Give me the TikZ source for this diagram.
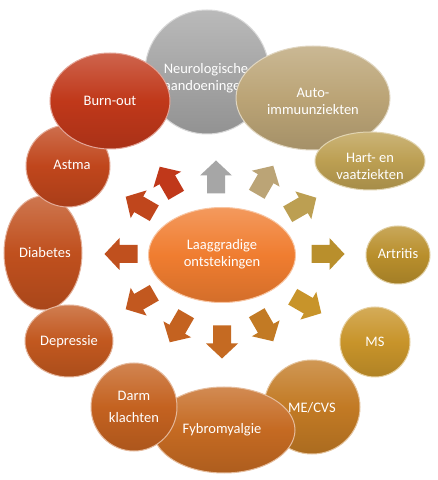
\documentclass[tikz,border=0pt]{standalone}
\usepackage{fontspec}
\setmainfont{Carlito}
\usetikzlibrary{shapes.geometric}
\definecolor{cNeuro}{HTML}{A6A6A6}
\definecolor{cAuto}{HTML}{BBA476}
\definecolor{cHart}{HTML}{BC9F52}
\definecolor{cArtr}{HTML}{B98F2C}
\definecolor{cMS}{HTML}{C8942A}
\definecolor{cMECVS}{HTML}{C27A24}
\definecolor{cFybro}{HTML}{C56A22}
\definecolor{cDarm}{HTML}{C46220}
\definecolor{cDepr}{HTML}{C2581F}
\definecolor{cDiab}{HTML}{C0501E}
\definecolor{cAstma}{HTML}{C0461C}
\definecolor{cBurn}{HTML}{C0381A}
\definecolor{cCenter}{HTML}{F07D30}
\tikzset{
  bubble/.style={ellipse, inner sep=0pt, draw=#1!45!white, line width=1pt,
    top color=#1!78!white, bottom color=#1!88!black, middle color=#1},
  txt/.style={text=white, align=center, inner sep=0pt,
    font=\fontsize{14.5}{17}\selectfont},
  arrowfill/.style={fill=#1},
}
\begin{document}
\begin{tikzpicture}[x=1pt,y=1pt]
\useasboundingbox[fill=white] (0,0) rectangle (438,480);
% outer ring (back to front)
\node[bubble=cNeuro, minimum width=124, minimum height=124] (neuro) at (207,408) {};
\node[txt] (tneuro) at (206,402) {Neurologische\\aandoeningen};
\node[bubble=cAuto, minimum width=154, minimum height=104] (auto) at (313,382) {};
\node[txt] (tauto) at (313,379) {Auto-\\immuunziekten};
\node[bubble=cHart, minimum width=110, minimum height=58] (hart) at (370,319) {};
\node[txt] (thart) at (370,314) {Hart- en\\vaatziekten};
\node[bubble=cArtr, minimum width=64, minimum height=58] (artr) at (398,225) {};
\node[txt] (tartr) at (398,226) {Artritis};
\node[bubble=cMS, minimum width=70, minimum height=70] (ms) at (375,138) {};
\node[txt] (tms) at (375,138) {MS};
\node[bubble=cMECVS, minimum width=96, minimum height=94] (mecvs) at (312,73) {};
\node[txt] (tmecvs) at (312,72) {ME/CVS};
\node[bubble=cFybro, minimum width=142, minimum height=86] (fybro) at (224,50) {};
\node[txt] (tfybro) at (222,50) {Fybromyalgie};
\node[bubble=cDarm, minimum width=86, minimum height=88] (darm) at (134,73) {};
\node[txt, font=\fontsize{14.5}{22}\selectfont] (tdarm) at (134,73) {Darm\\klachten};
\node[bubble=cDiab, minimum width=78, minimum height=114] (diab) at (43,227) {};
\node[txt] (tdiab) at (45,227) {Diabetes};
\node[bubble=cDepr, minimum width=88, minimum height=72] (depr) at (69,139) {};
\node[txt] (tdepr) at (69,138) {Depressie};
\node[bubble=cAstma, minimum width=84, minimum height=82] (astma) at (68,314) {};
\node[txt] (tastma) at (72,315) {Astma};
\node[bubble=cBurn, minimum width=120, minimum height=96] (burn) at (110,379) {};
\node[txt] (tburn) at (110,379) {Burn-out};
% centre
\node[bubble=cCenter, minimum width=147, minimum height=95] (center) at (222,225) {};
\node[txt] (tcenter) at (222,225.5) {Laaggradige\\ontstekingen};
% block arrows
\foreach \ang/\px/\py/\col in {90/216/303/cNeuro, 120/168/299/cBurn, 150/140/275/cAstma,
  180/121/226/cDiab, 210/140/179/cDepr, 240/178/152/cDarm, 270/222/138/cFybro,
  300/265/153/cMECVS, 330/307/175/cMS, 0/328/226/cArtr, 30/302/274/cHart, 60/265/300/cAuto}{
  \begin{scope}[shift={(\px,\py)}, rotate=\ang]
    \fill[arrowfill=\col] (-16.5,-9) -- (1.5,-9) -- (1.5,-16) -- (16.5,0) -- (1.5,16)
      -- (1.5,9) -- (-16.5,9) -- cycle;
  \end{scope}
}
\end{tikzpicture}
\end{document}
